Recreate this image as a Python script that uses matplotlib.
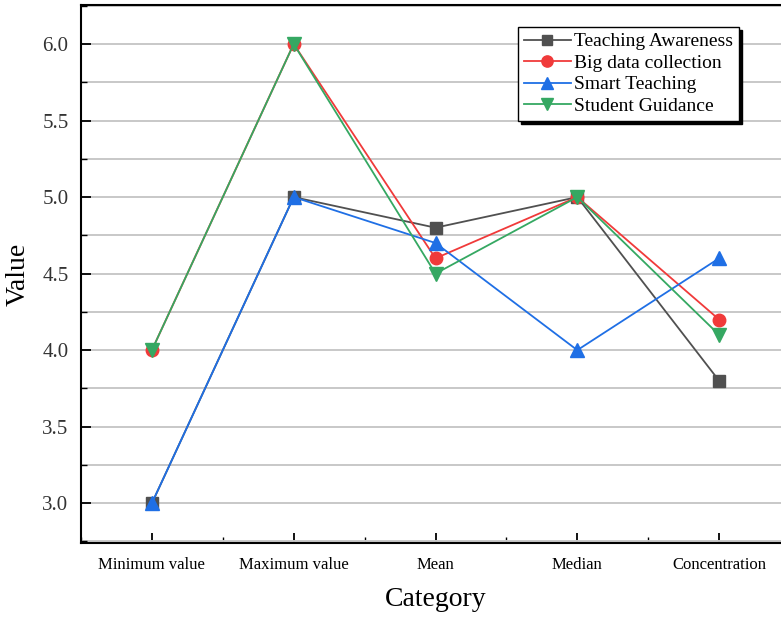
import numpy as np
import matplotlib.pyplot as plt
from matplotlib.ticker import MultipleLocator

plt.rcParams['font.family'] = ['Liberation Serif', 'DejaVu Serif']

categories = ["Minimum value", "Maximum value", "Mean", "Median", "Concentration"]
teaching_awareness = [3.0, 5.0, 4.8, 5.0, 3.8]
big_data = [4.0, 6.0, 4.6, 5.0, 4.2]
smart_teaching = [3.0, 5.0, 4.7, 4.0, 4.6]
student_guidance = [4.0, 6.0, 4.5, 5.0, 4.1]

x = np.arange(1, len(categories) + 1)

fig = plt.figure(figsize=(7.81, 6.17), dpi=100)
# right edge of the frame runs past the picture, as in the reference
ax = fig.add_axes([81/781, 1 - 543/617, (790 - 81)/781, (543 - 5)/617])

ax.plot(x, teaching_awareness, color='#505050', marker='s', ms=8, lw=1.3, label='Teaching Awareness')
ax.plot(x, big_data, color='#f03a3a', marker='o', ms=9, lw=1.3, label='Big data collection')
ax.plot(x, smart_teaching, color='#1f6fe5', marker='^', ms=10, lw=1.3, label='Smart Teaching')
ax.plot(x, student_guidance, color='#35a862', marker='v', ms=10, lw=1.3, label='Student Guidance')

ax.set_xlim(0.5, 5.5)
ax.set_ylim(2.74, 6.255)
ax.set_xticks(x)
ax.set_xticklabels(categories, fontsize=12)
ax.xaxis.set_minor_locator(MultipleLocator(0.5))
ax.yaxis.set_minor_locator(MultipleLocator(0.25))
ax.set_yticks(np.arange(3.0, 6.01, 0.5))
ax.set_yticklabels(['3.0', '3.5', '4.0', '4.5', '5.0', '5.5', '6.0'], fontsize=15, color='#333333')

ax.tick_params(which='major', direction='in', length=7, width=1.3, pad=9)
ax.tick_params(which='minor', direction='in', length=4, width=1.0)
ax.tick_params(axis='x', which='major', pad=10)

ax.grid(True, which='both', axis='y', color='#c8c8c8', lw=1.4)
ax.set_axisbelow(True)
for s in ax.spines.values():
    s.set_linewidth(1.5)

ax.set_xlabel('Category', fontsize=20, labelpad=10)
ax.set_ylabel('Value', fontsize=20, labelpad=8)

leg = ax.legend(loc='upper left', bbox_to_anchor=(518/781, 1 - 27/617),
                bbox_transform=fig.transFigure, fontsize=14, frameon=True,
                fancybox=False, edgecolor='black', framealpha=1,
                shadow={'color': 'black', 'alpha': 1},
                handlelength=2.4, handletextpad=0.2, borderpad=0.3,
                labelspacing=0.2, borderaxespad=0, markerscale=0.9)
leg.get_frame().set_linewidth(1.0)

fig.savefig('out.png', dpi=100)
